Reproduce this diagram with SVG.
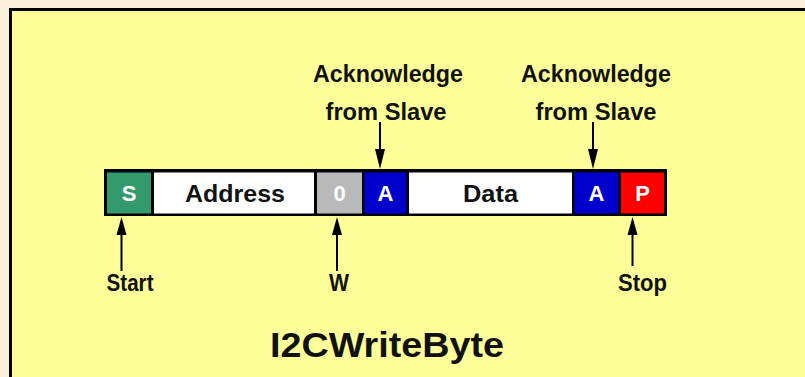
<svg xmlns="http://www.w3.org/2000/svg" width="805" height="377" viewBox="0 0 805 377">
<defs>
<style>
.t{font-family:"Liberation Sans",Arial,sans-serif;font-weight:bold;text-anchor:middle;}
.lbl{font-size:23px;fill:#111;}
.cell{font-size:22px;fill:#fff;}
.ln{stroke:#000;stroke-width:2;fill:none;}
.hd{fill:#000;}
</style>
</defs>
<rect x="0" y="0" width="805" height="377" fill="#FAF0DC"/>
<rect x="9" y="8" width="796" height="369" fill="#000"/>
<rect x="12" y="11" width="793" height="366" fill="#FFFF99"/>
<g id="bar">
<rect x="104" y="169" width="563" height="47" fill="#000"/>
</g>
<g id="S"><rect x="107" y="172.5" width="44" height="41" fill="#339A6E"/><text class="t cell" x="129" y="201">S</text></g>
<g id="Address"><rect x="154" y="172.5" width="160" height="41" fill="#fff"/><text class="t lbl" x="235" y="201.5" textLength="100" lengthAdjust="spacingAndGlyphs">Address</text></g>
<g id="W0"><rect x="317" y="172.5" width="45" height="41" fill="#B9B9B9"/><text class="t cell" x="339.5" y="201">0</text></g>
<g id="A1"><rect x="364.5" y="172.5" width="42" height="41" fill="#0000CC"/><text class="t cell" x="385.5" y="201">A</text></g>
<g id="Data"><rect x="409" y="172.5" width="163" height="41" fill="#fff"/><text class="t lbl" x="490.5" y="201.5" textLength="55" lengthAdjust="spacingAndGlyphs">Data</text></g>
<g id="A2"><rect x="574.5" y="172.5" width="44" height="41" fill="#0000CC"/><text class="t cell" x="596.5" y="201">A</text></g>
<g id="P"><rect x="621" y="172.5" width="43" height="41" fill="#FF0000"/><text class="t cell" x="642.5" y="201">P</text></g>
<g id="connectors">
<line class="ln" x1="121.5" y1="271" x2="121.5" y2="230"/>
<polygon class="hd" points="121.5,217 126.5,235 116.5,235"/>
<line class="ln" x1="337" y1="271" x2="337" y2="230"/>
<polygon class="hd" points="337,217 342,235 332,235"/>
<line class="ln" x1="632.5" y1="266" x2="632.5" y2="230"/>
<polygon class="hd" points="632.5,217 637.5,235 627.5,235"/>
<line class="ln" x1="380" y1="122" x2="380" y2="155"/>
<polygon class="hd" points="380,169 385,149 375,149"/>
<line class="ln" x1="593" y1="122" x2="593" y2="155"/>
<polygon class="hd" points="593,169 598,149 588,149"/>
</g>
<g id="ack1"><text class="t lbl" x="388" y="82" textLength="150" lengthAdjust="spacingAndGlyphs">Acknowledge</text><text class="t lbl" x="386" y="120" textLength="121" lengthAdjust="spacingAndGlyphs">from Slave</text></g>
<g id="ack2"><text class="t lbl" x="596" y="82" textLength="150" lengthAdjust="spacingAndGlyphs">Acknowledge</text><text class="t lbl" x="596" y="120" textLength="121" lengthAdjust="spacingAndGlyphs">from Slave</text></g>
<g id="start"><text class="t lbl" x="130" y="290.5" textLength="47" lengthAdjust="spacingAndGlyphs">Start</text></g>
<g id="w"><text class="t lbl" x="339" y="290.5" textLength="20" lengthAdjust="spacingAndGlyphs">W</text></g>
<g id="stop"><text class="t lbl" x="642.5" y="290.5" textLength="49" lengthAdjust="spacingAndGlyphs">Stop</text></g>
<g id="title"><text class="t" x="387" y="357" font-size="35" fill="#111" textLength="234" lengthAdjust="spacingAndGlyphs">I2CWriteByte</text></g>
</svg>
